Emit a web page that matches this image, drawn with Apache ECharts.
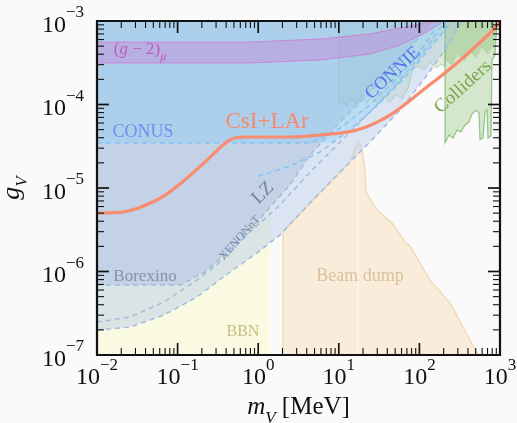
<!DOCTYPE html>
<html>
<head>
<meta charset="utf-8">
<script src="https://cdn.jsdelivr.net/npm/echarts@6/dist/echarts.min.js"></script>
<style>
html,body{margin:0;padding:0;background:#fafafa;}
#chart{width:517px;height:423px;}
</style>
</head>
<body>
<div id="chart"></div>
<script>
// ---------------- data (mass m_V in MeV, coupling g_V) ----------------
const xTickExponents = [-2, -1, 0, 1, 2, 3];
const yTickExponents = [-7, -6, -5, -4, -3];

const csiLar = [[0.01,5.0e-6],[0.021,5.16e-6],[0.0555,7.18e-6],[0.107,1.12e-5],[0.219,2.05e-5],[0.447,3.76e-5],[0.686,4.08e-5],[2.48,4.08e-5],[5.85,4.31e-5],[16.8,4.95e-5],[43.1,7.48e-5],[111,1.49e-4],[293,3.14e-4],[752,7.18e-4],[1000,9.7e-4]];

const conusLine = [[0.01,3.46e-5],[4.39,3.46e-5],[10.4,5.23e-5],[24.4,9.86e-5],[57.4,2.25e-4],[117,5.16e-4],[180,1e-3]];
const connieLine = [[1.0,1.39e-5],[2.48,1.83e-5],[5.85,2.7e-5],[13.8,4.95e-5],[32.4,1.04e-4],[76.4,2.45e-4],[156,5.6e-4],[254,1e-3]];

const borexinoLine = [[0.01,6.89e-7],[0.107,6.89e-7],[0.219,9.86e-7],[0.447,1.81e-6],[1.15,4.75e-6],[2.48,1.09e-5],[4.39,2.48e-5],[10.4,6.17e-5],[24.4,1.41e-4],[57.4,3.41e-4],[117,7.8e-4],[143,1e-3]];
const xenonLine = [[0.01,2.48e-7],[0.0257,2.85e-7],[0.0678,4.31e-7],[0.174,7.91e-7],[0.308,1.2e-6],[0.791,2.97e-6],[1.86,6.25e-6],[4.39,1.55e-5],[10.4,3.56e-5],[24.4,8.13e-5],[57.4,1.96e-4],[117,4.5e-4],[208,1e-3]];
const lzLine = [[0.01,1.99e-7],[0.0257,2.16e-7],[0.0678,3.01e-7],[0.174,4.95e-7],[0.447,9.86e-7],[0.966,1.67e-6],[1.86,2.74e-6],[4.39,6.61e-6],[10.4,1.55e-5],[24.4,3.56e-5],[57.4,8.59e-5],[117,2.07e-4],[208,4.5e-4],[338,1e-3]];

const g2Upper = [[0.01,5.6e-4],[0.791,5.6e-4],[5.85,6.08e-4],[24.4,6.99e-4],[76.4,8.71e-4],[156,1e-3]];
const g2Lower = [[0.01,3.14e-4],[0.791,3.14e-4],[5.85,3.41e-4],[24.4,4.02e-4],[57.4,5.16e-4],[117,7.18e-4],[208,1e-3]];

const bbnRegion = [[0.01,1e-7],[1.4,1e-7],[1.4,6.0e-6],[1.15,4.75e-6],[0.447,1.81e-6],[0.219,9.86e-7],[0.107,6.89e-7],[0.01,6.89e-7]];

const beamDump = [[2.03,1e-7],[2.03,2.97e-6],[4.39,6.61e-6],[10.4,1.55e-5],[13.8,2.05e-5],[17.3,3.76e-5],[19.4,2.85e-5],[21.1,1.64e-5],[21.7,8.95e-6],[29.8,5.46e-6],[45.7,3.81e-6],[66.2,2.26e-6],[76.4,2.02e-6],[135,7.91e-7],[240,4.2e-7],[348,2.16e-7],[533,1e-7]];
const beamDumpDivider = [[17.3,1e-7],[17.3,3.76e-5]];

const collidersWide = [[10.0,1e-3],[10.0,9.86e-5],[11.3,1.13e-4],[12.6,9.33e-5],[14.6,1.2e-4],[16.8,1.01e-4],[19.4,1.30e-4],[22.4,1.04e-4],[25.8,1.26e-4],[30.6,1.01e-4],[36.4,1.23e-4],[43.1,1.07e-4],[51.3,1.33e-4],[60.8,1.16e-4],[72.3,1.58e-4],[81.0,2.59e-4],[96.1,2.89e-4],[114,2.59e-4],[135,3.23e-4],[161,2.74e-4],[185,3.05e-4],[208,2.89e-4],[208,1e-3]];
const collidersMain = [[208,1e-3],[208,3.46e-5],[233,4.31e-5],[261,3.97e-5],[293,4.95e-5],[328,4.69e-5],[368,5.68e-5],[412,6.17e-5],[449,7.69e-5],[504,8.59e-5],[548,7.91e-5],[565,3.76e-5],[615,3.97e-5],[652,8.13e-5],[690,8.59e-5],[710,3.97e-5],[773,4.2e-5],[796,3.41e-4],[867,3.92e-4],[919,1e-3]];
const collidersTop = [[208,1e-3],[208,3.41e-4],[254,2.97e-4],[301,3.92e-4],[357,3.23e-4],[424,4.26e-4],[504,3.6e-4],[597,4.75e-4],[710,3.92e-4],[843,5.16e-4],[919,1e-3]];

const annotationNames = ['g2', 'CONUS', 'CsI+LAr', 'CONNIE', 'Colliders', 'LZ', 'XENONnT', 'Borexino', 'BBN', 'Beam dump'];
const annotationAnchors = [[0.0341,4.26e-4],[0.0372,4.69e-5],[1.29,6.17e-5],[47.0,2.38e-4],[348,1.62e-4],[1.15,8.71e-6],[0.594,2.52e-6],[0.0394,8.59e-7],[0.647,1.88e-7],[18.3,8.83e-7]];

// ---------------- drawing ----------------
const FONT = '"Liberation Serif", "Times New Roman", serif';
const X_MIN = 0.01, X_MAX = 1000, Y_MIN = 1e-7, Y_MAX = 1e-3;

// union of CONUS (flat part) and CONNIE (rising part): CONUS floor until CONNIE crosses it
const blueRegion = [[0.01,3.46e-5],[8.3,3.46e-5]].concat(connieLine.slice(3), [[0.01,1e-3]]);
const darkRegion = borexinoLine.concat([[0.01,1e-3]]);
const bandRegion = lzLine.concat([[0.01,1e-3]]);
const g2Region = g2Upper.concat(g2Lower.slice().reverse());

function region(pts, style, z) {
  return {
    type: 'custom', coordinateSystem: 'cartesian2d', silent: true, z: z,
    data: [pts[0]],
    renderItem: function (params, api) {
      return { type: 'polygon', shape: { points: pts.map(function (p) { return api.coord(p); }) }, style: style };
    }
  };
}
function dashed(pts, color, z) {
  return { type: 'line', data: pts, symbol: 'none', silent: true, z: z,
    lineStyle: { color: color, width: 1.5, type: [5, 4] } };
}

const annotationStyle = {
  'g2':        { size: 17, color: '#c05abf', rot: 0,  rich: true },
  'CONUS':     { size: 18, color: '#6f8ef0', rot: 0 },
  'CsI+LAr':   { size: 23, color: '#f88a70', rot: 0 },
  'CONNIE':    { size: 18, color: '#5373f0', rot: 43 },
  'Colliders': { size: 19, color: '#7ea34a', rot: 42 },
  'LZ':        { size: 19, color: '#75839a', rot: 45 },
  'XENONnT':   { size: 12, color: '#7f8da3', rot: 48 },
  'Borexino':  { size: 17, color: '#8592a8', rot: 0 },
  'BBN':       { size: 16, color: '#c6bd7c', rot: 0 },
  'Beam dump': { size: 18, color: '#dcbf9c', rot: 0 }
};

function labelSeries() {
  return {
    type: 'custom', coordinateSystem: 'cartesian2d', silent: true, z: 30,
    data: annotationAnchors,
    renderItem: function (params, api) {
      const name = annotationNames[params.dataIndex];
      const st = annotationStyle[name];
      const p = api.coord(annotationAnchors[params.dataIndex]);
      const style = { fill: st.color, fontSize: st.size, fontFamily: FONT, align: 'center', verticalAlign: 'middle' };
      if (st.rich) {
        style.text = '{p|(}{i|g}{p| \u2212 2)}{s|\u03bc}';
        style.rich = {
          p: { fontSize: st.size, fontFamily: FONT, fill: st.color, verticalAlign: 'top', lineHeight: 21 },
          i: { fontSize: st.size, fontFamily: FONT, fontStyle: 'italic', fill: st.color, verticalAlign: 'top', lineHeight: 21 },
          s: { fontSize: 12, fontFamily: FONT, fontStyle: 'italic', fill: st.color, verticalAlign: 'bottom', lineHeight: 21 }
        };
      } else {
        style.text = name;
      }
      return { type: 'text', x: p[0], y: p[1], rotation: st.rot * Math.PI / 180, style: style };
    }
  };
}

function frameSeries() {
  return {
    type: 'custom', coordinateSystem: 'cartesian2d', silent: true, z: 40,
    data: [[X_MIN, Y_MIN]],
    renderItem: function (params, api) {
      const ch = [];
      const bl = api.coord([X_MIN, Y_MIN]), tr = api.coord([X_MAX, Y_MAX]);
      const L = bl[0], B = bl[1], R = tr[0], T = tr[1];
      function add(x1, y1, x2, y2, w) {
        ch.push({ type: 'line', shape: { x1: x1, y1: y1, x2: x2, y2: y2 }, style: { stroke: '#111', lineWidth: w } });
      }
      const MAJ = 12, MIN = 7;
      for (let i = 0; i < xTickExponents.length; i++) {
        const v = Math.pow(10, xTickExponents[i]);
        const x = api.coord([v, Y_MIN])[0];
        add(x, B, x, B - MAJ, 1.7); add(x, T, x, T + MAJ, 1.7);
        if (i < xTickExponents.length - 1) {
          for (let k = 2; k <= 9; k++) {
            const xm = api.coord([k * v, Y_MIN])[0];
            add(xm, B, xm, B - MIN, 1.1); add(xm, T, xm, T + MIN, 1.1);
          }
        }
      }
      for (let i = 0; i < yTickExponents.length; i++) {
        const v = Math.pow(10, yTickExponents[i]);
        const y = api.coord([X_MIN, v])[1];
        add(L, y, L + MAJ, y, 1.7); add(R, y, R - MAJ, y, 1.7);
        if (i < yTickExponents.length - 1) {
          for (let k = 2; k <= 9; k++) {
            const ym = api.coord([X_MIN, k * v])[1];
            add(L, ym, L + MIN, ym, 1.1); add(R, ym, R - MIN, ym, 1.1);
          }
        }
      }
      ch.push({ type: 'rect', shape: { x: L, y: T, width: R - L, height: B - T }, style: { fill: 'none', stroke: '#111', lineWidth: 2.2 } });
      return { type: 'group', children: ch };
    }
  };
}

function expLabel(v) {
  const e = Math.round(Math.log10(v));
  return '{b|10}{s|' + (e < 0 ? '\u2212' + (-e) : String(e)) + '}';
}
const tickRich = {
  b: { fontFamily: FONT, fontSize: 24, color: '#111', verticalAlign: 'bottom', lineHeight: 33 },
  s: { fontFamily: FONT, fontSize: 17, color: '#111', verticalAlign: 'top', lineHeight: 33 }
};

const chart = echarts.init(document.getElementById('chart'), null, { renderer: 'canvas' });
chart.setOption({
  animation: false,
  backgroundColor: '#fafafa',
  grid: { left: 97, right: 17, top: 21, bottom: 68, containLabel: false, outerBoundsMode: 'none' },
  xAxis: {
    type: 'log', logBase: 10, min: X_MIN, max: X_MAX,
    axisLine: { show: false }, axisTick: { show: false }, splitLine: { show: false },
    axisLabel: { formatter: expLabel, rich: tickRich, margin: 2 },
    name: '{i|m}{s|V}{r| [MeV]}', nameLocation: 'middle', nameGap: 40,
    nameTextStyle: { rich: {
      i: { fontFamily: FONT, fontSize: 25, fontStyle: 'italic', color: '#111', verticalAlign: 'top', lineHeight: 32 },
      s: { fontFamily: FONT, fontSize: 17, fontStyle: 'italic', color: '#111', verticalAlign: 'bottom', lineHeight: 32 },
      r: { fontFamily: FONT, fontSize: 25, color: '#111', verticalAlign: 'top', lineHeight: 32 }
    } }
  },
  yAxis: {
    type: 'log', logBase: 10, min: Y_MIN, max: Y_MAX,
    axisLine: { show: false }, axisTick: { show: false }, splitLine: { show: false },
    axisLabel: { formatter: expLabel, rich: tickRich, margin: 13 },
    name: '{i|g}{s|V}', nameLocation: 'middle', nameGap: 62, nameRotate: 90,
    nameTextStyle: { rich: {
      i: { fontFamily: FONT, fontSize: 26, fontStyle: 'italic', color: '#111', verticalAlign: 'top', lineHeight: 32 },
      s: { fontFamily: FONT, fontSize: 17, fontStyle: 'italic', color: '#111', verticalAlign: 'bottom', lineHeight: 32 }
    } }
  },
  series: [
    region(bbnRegion, { fill: '#fafae2' }, 1),
    region(beamDump, { fill: '#f9ecda', stroke: '#f2d6b0', lineWidth: 1.2 }, 2),
    { type: 'line', data: beamDumpDivider, symbol: 'none', silent: true, z: 3, lineStyle: { color: '#fff7ec', width: 1.2 } },
    region(collidersWide, { fill: 'rgba(140,195,120,0.22)', stroke: 'rgba(120,180,100,0.55)', lineWidth: 1 }, 4),
    region(collidersMain, { fill: 'rgba(140,195,120,0.35)', stroke: 'rgba(120,180,100,0.75)', lineWidth: 1.2 }, 5),
    region(collidersTop, { fill: 'rgba(120,180,100,0.3)' }, 6),
    region(bandRegion, { fill: 'rgba(175,198,232,0.42)' }, 7),
    region(darkRegion, { fill: 'rgba(150,172,205,0.33)' }, 8),
    dashed(borexinoLine, '#a3bade', 9),
    dashed(xenonLine, '#a3bade', 9),
    dashed(lzLine, '#a3bade', 9),
    region(blueRegion, { fill: 'rgba(125,205,245,0.32)' }, 10),
    region(g2Region, { fill: 'rgba(194,142,216,0.5)', stroke: 'rgba(210,110,210,0.7)', lineWidth: 1 }, 11),
    dashed(conusLine, '#80c4f2', 12),
    dashed(connieLine, '#80c4f2', 12),
    { type: 'line', data: csiLar, symbol: 'none', silent: true, z: 20, smooth: 0.35,
      lineStyle: { color: '#f98b6f', width: 3.2 } },
    labelSeries(),
    frameSeries()
  ]
});
</script>
</body>
</html>
